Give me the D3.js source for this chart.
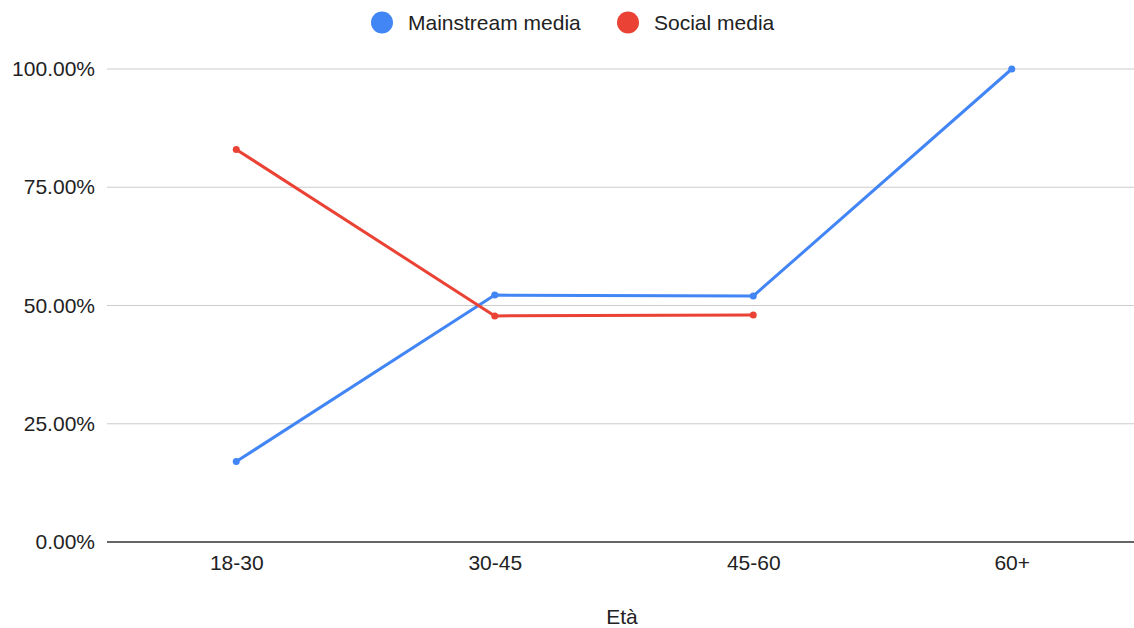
<!doctype html>
<html>
<head>
<meta charset="utf-8">
<script src="https://d3js.org/d3.v7.min.js"></script>
<style>
  body { margin: 0; background: #fff; }
  text { font-family: "Liberation Sans", Arial, sans-serif; fill: #222; }
</style>
</head>
<body>
<svg width="1134" height="628"></svg>
<script>
// data
var categories = ["18-30", "30-45", "45-60", "60+"];
var mainstream = [17.0, 52.2, 52.0, 100.0];
var social = [83.0, 47.8, 48.0, null];
var yTicks = [0, 25, 50, 75, 100];
var seriesNames = ["Mainstream media", "Social media"];
var seriesColors = ["#4285f4", "#ea4335"];

var svg = d3.select("svg"),
    width = +svg.attr("width"),
    height = +svg.attr("height");

var plotLeft = 107, plotTop = 69, plotBottom = 542;

var x = d3.scalePoint()
    .domain(categories)
    .range([plotLeft, plotLeft + 1034])
    .padding(0.5);

var y = d3.scaleLinear()
    .domain([0, 100])
    .range([plotBottom, plotTop]);

// grid
svg.append("g")
    .selectAll("line")
    .data(yTicks.filter(d => d > 0))
    .enter().append("line")
      .attr("x1", plotLeft).attr("x2", width)
      .attr("y1", d => y(d)).attr("y2", d => y(d))
      .style("stroke", "#cccccc")
      .style("stroke-width", 1.2);

// y labels
var yAxis = svg.append("g")
    .attr("transform", `translate(${plotLeft},0)`)
    .call(d3.axisLeft(y).tickValues(yTicks).tickSize(0).tickPadding(12)
      .tickFormat(d => d.toFixed(2) + "%"));
yAxis.select(".domain").remove();
yAxis.selectAll("text")
    .style("font-size", "21px")
    .style("fill", "#222");

// x axis
var xAxis = svg.append("g")
    .attr("transform", `translate(0,${plotBottom})`)
    .call(d3.axisBottom(x).tickSize(0).tickPadding(13));
xAxis.select(".domain").remove();
xAxis.selectAll("text")
    .style("font-size", "21px")
    .style("fill", "#222");

svg.append("line")
    .attr("x1", plotLeft).attr("x2", width)
    .attr("y1", y(0)).attr("y2", y(0))
    .style("stroke", "#333")
    .style("stroke-width", 1.6);

svg.append("text")
    .attr("x", 622)
    .attr("y", 624)
    .attr("text-anchor", "middle")
    .style("font-size", "21px")
    .text("Età");

// lines
var series = [mainstream, social];
var line = d3.line()
    .defined(d => d.v != null)
    .x(d => x(d.c))
    .y(d => y(d.v));

series.forEach(function(vals, i) {
  var pts = categories.map((c, j) => ({ c: c, v: vals[j] }));
  svg.append("path")
      .datum(pts)
      .attr("d", line)
      .style("fill", "none")
      .style("stroke", seriesColors[i])
      .style("stroke-width", 3)
      .style("stroke-linejoin", "round");
  svg.append("g")
    .selectAll("circle")
    .data(pts.filter(d => d.v != null))
    .enter().append("circle")
      .attr("cx", d => x(d.c))
      .attr("cy", d => y(d.v))
      .attr("r", 3.5)
      .style("fill", seriesColors[i]);
});

// legend
var legendX = [382, 628];
var legend = svg.append("g")
    .selectAll("g")
    .data(seriesNames)
    .enter().append("g")
      .attr("transform", (d, i) => `translate(${legendX[i]},22.5)`);
legend.append("circle")
    .attr("r", 11)
    .style("fill", (d, i) => seriesColors[i]);
legend.append("text")
    .attr("x", 26)
    .attr("dy", "0.35em")
    .style("font-size", "21px")
    .text(d => d);
</script>
</body>
</html>
